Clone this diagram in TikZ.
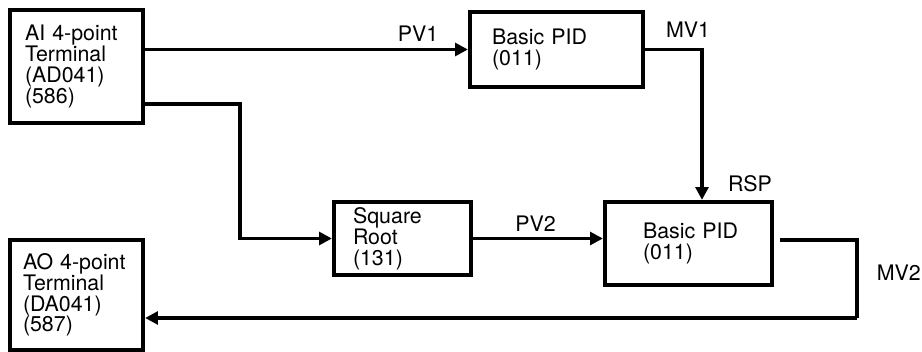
\documentclass[tikz,border=0pt]{standalone}
\usepackage{fontspec}
\setmainfont{TeX Gyre Heros}
\usetikzlibrary{arrows.meta, positioning, calc}

\begin{document}
\begin{tikzpicture}[
  font=\fontsize{15.2}{14.8}\selectfont,
  filo/.style={draw=black, line width=2.8pt},
  filosottile/.style={draw=black, line width=2.2pt},
  freccia/.style={filo, -{Triangle[length=9pt,width=9pt]}},
  frecciasottile/.style={filosottile, -{Triangle[length=9pt,width=9pt]}},
  etichetta/.style={inner sep=1pt},
  blocco/.style={draw=black, line width=3pt, fill=white, align=left, inner ysep=0pt}
]
\useasboundingbox (0,0) rectangle (23.05,8.8);

% ---- terminali di ingresso e uscita ----------------------------------
\node[blocco, minimum width=3.325cm, minimum height=2.825cm,
      text width=2.575cm, inner xsep=0.375cm] (ai) at (1.9125,7.1375)
     {AI 4-point\\Terminal\\(AD041)\\(586)};
\node[blocco, minimum width=3.325cm, minimum height=2.75cm,
      text width=2.675cm, inner xsep=0.325cm] (ao) at (1.9125,1.425)
     {AO 4-point\\Terminal\\(DA041)\\(587)};

% ---- blocchi funzione ------------------------------------------------
\node[blocco, minimum width=4.325cm, minimum height=1.875cm,
      text width=3.225cm, inner xsep=0.55cm] (pid1) at (13.9125,7.5625)
     {Basic PID\\(011)};
\node[blocco, minimum width=3.425cm, minimum height=1.825cm,
      text width=2.475cm, inner xsep=0.475cm] (radice) at (10.0625,2.8375)
     {Square\\Root\\(131)};
% testo piu' largo del riquadro di testo: va a capo solo con \\
\node[blocco, minimum width=4.175cm, minimum height=2.075cm,
      text width=2.275cm, inner xsep=0.95cm] (pid2) at (17.2125,2.7125)
     {Basic~PID\\(011)\\[4pt]};

% ---- punti di piega dei collegamenti ---------------------------------
\coordinate (gomito) at (6.0,6.2);
\coordinate (mv1) at (17.55,7.5625);
\coordinate (mv2a) at (21.425,2.8);
\coordinate (mv2b) at (21.425,0.85);

% ---- collegamenti ----------------------------------------------------
\draw[freccia] (ai.east |- pid1.west) -- (pid1.west);
\draw[freccia] (ai.east |- gomito) -- (gomito) |- (radice.west);
\draw[freccia] (pid1.east) -- (mv1) -- (mv1 |- pid2.north);
\draw[frecciasottile] (radice.east) -- (radice.east -| pid2.west);
\draw[filosottile] ([xshift=0.15cm]pid2.east |- mv2a) -- (mv2a) -- (mv2b);
\draw[frecciasottile] (mv2b) -- (ao.east |- mv2b);

% ---- etichette dei segnali -------------------------------------------
\node[etichetta] (pv1) at (10.45,7.96) {PV1};
\node[etichetta] (mv1lab) at (17.2,8.05) {MV1};
\node[etichetta] (rsp) at (18.75,4.21) {RSP};
\node[etichetta] (pv2) at (13.39,3.2) {PV2};
\node[etichetta] (mv2) at (22.47,1.99) {MV2};

\end{tikzpicture}
\end{document}
